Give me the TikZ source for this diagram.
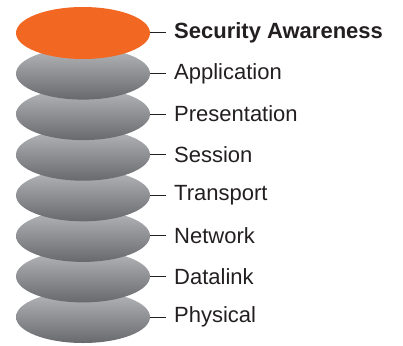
\documentclass[tikz,border=0pt]{standalone}
\usepackage{fontspec}
\setmainfont{Liberation Sans}
\usetikzlibrary{shapes.geometric}
\definecolor{layerorange}{HTML}{F26722}
\definecolor{layertop}{HTML}{B6B7BA}
\definecolor{layerbot}{HTML}{68696D}
\definecolor{labeltext}{HTML}{231F20}

\begin{document}
\begin{tikzpicture}
    [
        x=1pt,y=-1pt,
        layer/.style={ellipse, minimum width=134pt, minimum height=52pt, inner sep=0pt,
            top color=layertop, bottom color=layerbot},
        toplayer/.style={ellipse, minimum width=134pt, minimum height=52pt, inner sep=0pt,
            fill=layerorange},
        tag/.style={anchor=west, inner xsep=8pt, inner ysep=0pt, text=labeltext,
            font=\fontsize{22}{24}\selectfont},
        link/.style={draw=labeltext, line width=1pt},
    ]
    \useasboundingbox (0,0) rectangle (403,345);

    % stack, bottom first
    \node (phys)  at (83,317)   [layer] {};
    \node (data)  at (83,276.4) [layer] {};
    \node (net)   at (83,235.9) [layer] {};
    \node (trans) at (83,195.3) [layer] {};
    \node (sess)  at (83,154.7) [layer] {};
    \node (pres)  at (83,114.1) [layer] {};
    \node (app)   at (83,73.6)  [layer] {};
    \node (sec)   at (83,33)    [toplayer] {};

    % labels
    \node (secl)   at (166,33)    [tag] {\textbf{Security Awareness}};
    \node (appl)   at (166,73.6)  [tag] {Application};
    \node (presl)  at (166,114.1) [tag] {Presentation};
    \node (sessl)  at (166,154.7) [tag] {Session};
    \node (transl) at (166,195.3) [tag] {Transport};
    \node (netl)   at (166,235.9) [tag] {Network};
    \node (datal)  at (166,276.4) [tag] {Datalink};
    \node (physl)  at (166,317)   [tag] {Physical};

    \path[link]
    (sec.east)   -- (secl.west)
    (app.east)   -- (appl.west)
    (pres.east)  -- (presl.west)
    (sess.east)  -- (sessl.west)
    (trans.east) -- (transl.west)
    (net.east)   -- (netl.west)
    (data.east)  -- (datal.west)
    (phys.east)  -- (physl.west);

\end{tikzpicture}
\end{document}
